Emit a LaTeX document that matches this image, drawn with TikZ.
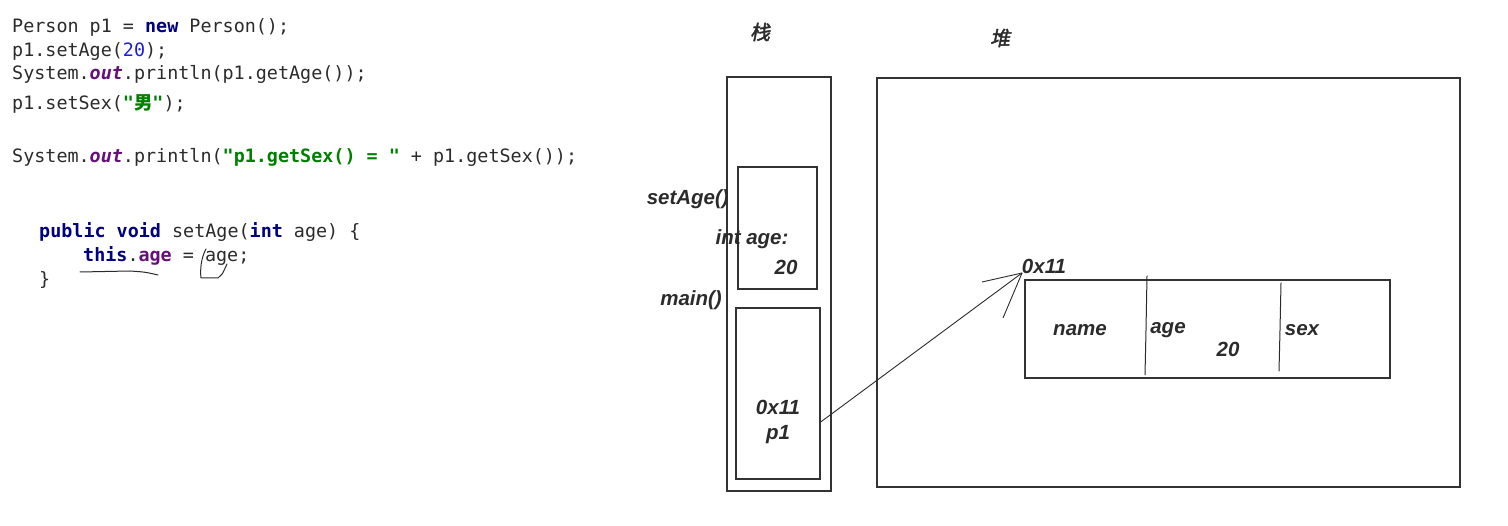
\documentclass[tikz,border=0pt]{standalone}
\usepackage{fontspec}
\setsansfont{Liberation Sans}
\newfontfamily\codefont{DejaVu Sans Mono}
\newfontfamily\cjk{Noto Sans CJK SC}
\newfontfamily\cjktitle{Noto Sans CJK SC}[FakeSlant=0.2, FakeBold=2]
\usepackage{tikz}

\definecolor{codegray}{HTML}{2B2B2B}
\definecolor{kwnavy}{HTML}{000080}
\definecolor{numblue}{HTML}{1A1AE6}
\definecolor{fldpurple}{HTML}{660E7A}
\definecolor{strgreen}{HTML}{008000}
\definecolor{boxgray}{HTML}{333333}

\newcommand{\jkw}[1]{{\bfseries\color{kwnavy}#1}}
\newcommand{\jnum}[1]{{\color{numblue}#1}}
\newcommand{\jfld}[1]{{\bfseries\color{fldpurple}#1}}
\newcommand{\jstr}[1]{{\bfseries\color{strgreen}#1}}

\begin{document}
\begin{tikzpicture}[x=1pt, y=-1pt,
    code/.style={anchor=base west, inner sep=0pt, text=codegray,
      font=\codefont\fontsize{18.4}{22}\selectfont},
    lbl/.style={inner sep=0pt, text=codegray,
      font=\sffamily\bfseries\itshape\fontsize{20.5}{24}\selectfont},
    title/.style={inner sep=0pt, text=codegray,
      font=\cjktitle\fontsize{20}{24}\selectfont},
    box/.style={draw=boxgray, line width=1.3pt, inner sep=0pt},
    link/.style={draw=codegray, line width=0.9pt},
    pen/.style={draw=codegray, line width=1pt, line cap=round}]
  \useasboundingbox (0,0) rectangle (1508,526);

  % 代码
  \node[code] (l1) at (12,33) {Person p1 = \jkw{new} Person();};
  \node[code] (l2) at (12,57) {p1.setAge(\jnum{20});};
  \node[code] (l3) at (12,80) {System.\jfld{\itshape out}.println(p1.getAge());};
  \node[code] (l4) at (12,110) {p1.setSex(\jstr{"{\cjk 男}"});};
  \node[code] (l5) at (12,163) {System.\jfld{\itshape out}.println(\jstr{"p1.getSex() = "} + p1.getSex());};
  \node[code] (l6) at (39,238) {\jkw{public} \jkw{void} setAge(\jkw{int} age) \{};
  \node[code] (l7) at (83,262) {\jkw{this}.\jfld{age} = age;};
  \node[code] (l8) at (39,286) {\}};

  % 手写标记
  \draw[pen] (80,272) -- (130,271) .. controls (145,272) .. (158,275);
  \draw[pen] (206,249) .. controls (201,258) and (200,270) .. (201,278)
    -- (218,278) .. controls (222,275) .. (227,264);

  % 栈
  \node[title] (stacktitle) at (760,32) {栈};
  \node[box, minimum width=104pt, minimum height=414pt] (stack) at (779,284) {};
  \node[box, minimum width=79pt, minimum height=122pt] (setframe) at (777.5,228) {};
  \node[box, minimum width=84pt, minimum height=171pt] (mainframe) at (778,393.5) {};
  \node[lbl, anchor=east] (setname) at (729,199) {setAge()};
  \node[lbl] (agevar) at (752,239) {int age:};
  \node[lbl] (ageval) at (786,267) {20};
  \node[lbl, anchor=east] (mainname) at (722,300) {main()};
  \node[lbl, align=center] (ref) at (778,422) {0x11\\[1pt]p1};

  % 堆
  \node[title] (heaptitle) at (1000,38) {堆};
  \node[box, minimum width=583pt, minimum height=409pt] (heap) at (1168.5,282.5) {};
  \node[box, minimum width=365pt, minimum height=98pt] (obj) at (1207.5,329) {};
  \draw[pen] (1147,276) -- (1146,330) -- (1145,375);
  \draw[pen] (1281,283) -- (1280,330) -- (1279,371);
  \node[lbl] (addr) at (1044,266) {0x11};
  \node[lbl] (fname) at (1080,330) {name};
  \node[lbl] (fage) at (1168,330) {age};
  \node[lbl] (fageval) at (1228,349) {20};
  \node[lbl] (fsex) at (1302,330) {sex};

  % 引用箭头
  \coordinate (tip) at (1022,273);
  \draw[link] (mainframe.east |- ref.center) -- (tip);
  \draw[link] (tip) -- ++(-40,9);
  \draw[link] (tip) -- ++(-19,45);
\end{tikzpicture}
\end{document}
